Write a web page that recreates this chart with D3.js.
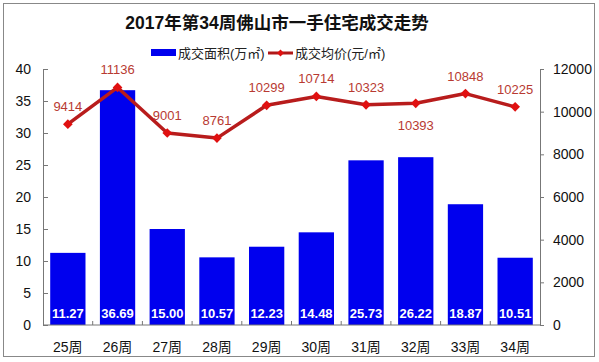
<!DOCTYPE html>
<html>
<head>
<meta charset="utf-8">
<script src="https://cdn.jsdelivr.net/npm/d3@7"></script>
<style>
  body { margin: 0; background: #fff; }
  svg { font-family: Arial, "Liberation Sans", "Noto Sans CJK SC", sans-serif; }
</style>
</head>
<body>
<svg width="599" height="362"></svg>
<script>
const weeks  = ["25周", "26周", "27周", "28周", "29周", "30周", "31周", "32周", "33周", "34周"];
const area   = [11.27, 36.69, 15.00, 10.57, 12.23, 14.48, 25.73, 26.22, 18.87, 10.51];
const price  = [9414, 11136, 9001, 8761, 10299, 10714, 10323, 10393, 10848, 10225];
const leftTicks  = [0, 5, 10, 15, 20, 25, 30, 35, 40];
const rightTicks = [0, 2000, 4000, 6000, 8000, 10000, 12000];

const svg = d3.select("svg");
const plotL = 43, plotR = 540, plotT = 69, plotB = 325;

// frame
svg.append("rect").attr("x", 3.5).attr("y", 3.5).attr("width", 591).attr("height", 353)
  .attr("fill", "none").attr("stroke", "#888").attr("stroke-width", 1);

const x = d3.scaleBand().domain(weeks).range([plotL, plotR]).paddingInner(0.29).paddingOuter(0.145);
const xb = d3.scaleBand().domain(weeks).range([plotL, plotR]);
const yL = d3.scaleLinear().domain([0, 40]).range([plotB, plotT]);
const yR = d3.scaleLinear().domain([0, 12000]).range([plotB, plotT]);

// title
svg.append("text").attr("x", 277).attr("y", 29).attr("text-anchor", "middle")
  .attr("font-size", 17.5).attr("font-weight", "bold").attr("fill", "#111")
  .text("2017年第34周佛山市一手住宅成交走势");

// legend
svg.append("rect").attr("x", 151).attr("y", 49).attr("width", 25).attr("height", 7).attr("fill", "#0000ee");
svg.append("text").attr("x", 178).attr("y", 58).attr("font-size", 13).attr("fill", "#222").text("成交面积(万㎡)");
svg.append("line").attr("x1", 268).attr("x2", 293).attr("y1", 53).attr("y2", 53)
  .attr("stroke", "#b01818").attr("stroke-width", 3);
svg.append("path").attr("d", d3.symbol(d3.symbolDiamond2, 30)())
  .attr("transform", "translate(280.5,53)").attr("fill", "#e01010");
svg.append("text").attr("x", 295).attr("y", 58).attr("font-size", 13).attr("fill", "#222").text("成交均价(元/㎡)");

// bars
svg.append("g").selectAll("rect").data(area).join("rect")
  .attr("x", (d, i) => x(weeks[i]))
  .attr("width", x.bandwidth())
  .attr("y", d => yL(d))
  .attr("height", d => plotB - yL(d))
  .attr("fill", "#0000ee");

svg.append("g").selectAll("text").data(area).join("text")
  .attr("x", (d, i) => x(weeks[i]) + x.bandwidth() / 2)
  .attr("y", 318)
  .attr("text-anchor", "middle")
  .attr("font-size", 13).attr("font-weight", "bold").attr("fill", "#fff")
  .text(d => d.toFixed(2));

// axes
const axL = svg.append("g").attr("transform", `translate(${plotL},0)`)
  .call(d3.axisLeft(yL).tickValues(leftTicks).tickSizeInner(-5).tickSizeOuter(0).tickPadding(12));
const axR = svg.append("g").attr("transform", `translate(${plotR},0)`)
  .call(d3.axisRight(yR).tickValues(rightTicks).tickFormat(d3.format("d"))
    .tickSizeInner(4).tickSizeOuter(0).tickPadding(9));
[axL, axR].forEach(g => {
  g.select(".domain").attr("stroke", "#777");
  g.selectAll(".tick line").attr("stroke", "#777");
  g.selectAll(".tick text").attr("font-size", 14).attr("fill", "#111")
    .attr("font-family", "Arial, 'Liberation Sans', sans-serif");
});

const axB = svg.append("g").attr("transform", `translate(0,${plotB})`);
axB.append("line").attr("x1", plotL).attr("x2", plotR).attr("stroke", "#777");
axB.selectAll("line.tk").data(weeks.slice(1)).join("line").attr("class", "tk")
  .attr("x1", d => xb(d)).attr("x2", d => xb(d)).attr("y1", 0).attr("y2", -4).attr("stroke", "#777");
axB.selectAll("text").data(weeks).join("text")
  .attr("x", d => xb(d) + xb.bandwidth() / 2).attr("y", 27)
  .attr("text-anchor", "middle").attr("font-size", 14).attr("fill", "#111")
  .text(d => d);

// price line
const cx = i => xb(weeks[i]) + xb.bandwidth() / 2;
const line = d3.line().x((d, i) => cx(i)).y(d => yR(d));
svg.append("path").datum(price).attr("d", line)
  .attr("fill", "none").attr("stroke", "#b81c1c").attr("stroke-width", 3.5)
  .attr("stroke-linejoin", "round");
svg.append("g").selectAll("path").data(price).join("path")
  .attr("d", d3.symbol(d3.symbolDiamond2, 60)())
  .attr("transform", (d, i) => `translate(${cx(i)},${yR(d)})`)
  .attr("fill", "#e01010");
svg.append("g").selectAll("text").data(price).join("text")
  .attr("x", (d, i) => cx(i))
  .attr("y", (d, i) => i === 7 ? yR(d) + 27 : yR(d) - 13)
  .attr("text-anchor", "middle").attr("font-size", 13).attr("fill", "#b83a32")
  .text(d => d);
</script>
</body>
</html>
